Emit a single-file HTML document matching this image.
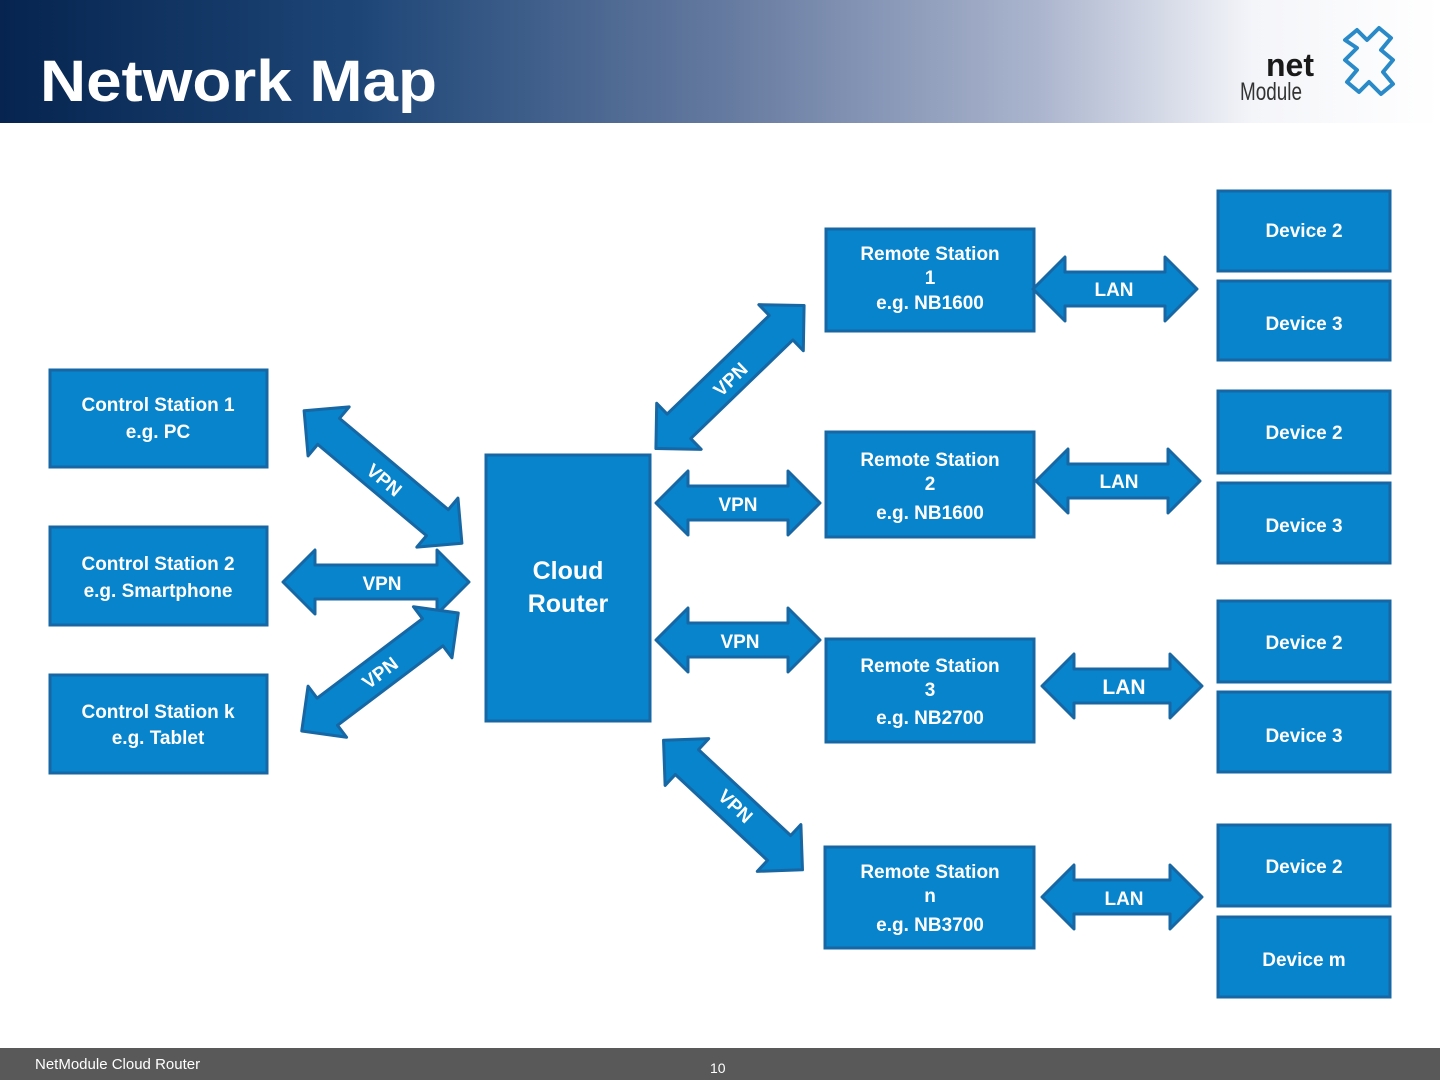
<!DOCTYPE html>
<html><head><meta charset="utf-8"><style>
body{margin:0;width:1440px;height:1080px;overflow:hidden;background:#fff;font-family:"Liberation Sans",sans-serif}
</style></head><body>
<svg width="1440" height="1080" viewBox="0 0 1440 1080" xmlns="http://www.w3.org/2000/svg" font-family="Liberation Sans, sans-serif">
<defs>
<linearGradient id="hg" x1="0" x2="1" y1="0" y2="0">
<stop offset="0" stop-color="#06244f"/>
<stop offset="0.25" stop-color="#1d4677"/>
<stop offset="0.5" stop-color="#64799f"/>
<stop offset="0.72" stop-color="#aab4cd"/>
<stop offset="0.87" stop-color="#f4f5f9"/>
<stop offset="1" stop-color="#ffffff"/>
</linearGradient>
</defs>
<rect x="0" y="0" width="1440" height="123" fill="url(#hg)"/>
<text x="40" y="101" font-size="58" font-weight="bold" fill="#fff" textLength="397" lengthAdjust="spacingAndGlyphs">Network Map</text>
<text x="1266" y="76" font-size="32" font-weight="bold" fill="#1a1a1a">net</text>
<text x="1240" y="100" font-size="25" fill="#333" textLength="62" lengthAdjust="spacingAndGlyphs">Module</text>
<path d="M1345,40 l12,-10 l10,10 l12,-12 l12,10 l-10,12 l12,10 l-10,12 l10,12 l-12,10 l-12,-12 l-10,10 l-12,-10 l10,-12 l-12,-10 l12,-12 z" fill="none" stroke="#2a8ac8" stroke-width="4" stroke-linejoin="round"/>

<g fill="#0784cc" stroke="#1667a3" stroke-width="3">
<rect x="1218" y="191" width="172" height="80"/>
<rect x="1218" y="281" width="172" height="79"/>
<rect x="826" y="229" width="208" height="102"/>
<rect x="50" y="370" width="217" height="97"/>
<rect x="1218" y="391" width="172" height="82"/>
<rect x="1218" y="483" width="172" height="80"/>
<rect x="826" y="432" width="208" height="105"/>
<rect x="486" y="455" width="164" height="266"/>
<rect x="50" y="527" width="217" height="98"/>
<rect x="1218" y="601" width="172" height="81"/>
<rect x="1218" y="692" width="172" height="80"/>
<rect x="826" y="639" width="208" height="103"/>
<rect x="50" y="675" width="217" height="98"/>
<rect x="1218" y="825" width="172" height="81"/>
<rect x="1218" y="917" width="172" height="80"/>
<rect x="825" y="847" width="209" height="101"/>
</g>

<g fill="#0784cc" stroke="#1667a3" stroke-width="3" stroke-linejoin="round">
<polygon transform="translate(1115,289)" points="-82,0 -50,-32 -50,-17 50,-17 50,-32 82,0 50,32 50,17 -50,17 -50,32"/>
<polygon transform="translate(1118,481)" points="-82,0 -50,-32 -50,-17 50,-17 50,-32 82,0 50,32 50,17 -50,17 -50,32"/>
<polygon transform="translate(738,503)" points="-82,0 -50,-32 -50,-17 50,-17 50,-32 82,0 50,32 50,17 -50,17 -50,32"/>
<polygon transform="translate(376,582)" points="-93,0 -61,-32 -61,-17 61,-17 61,-32 93,0 61,32 61,17 -61,17 -61,32"/>
<polygon transform="translate(738,640)" points="-82,0 -50,-32 -50,-17 50,-17 50,-32 82,0 50,32 50,17 -50,17 -50,32"/>
<polygon transform="translate(1122,686)" points="-80,0 -48,-32 -48,-17 48,-17 48,-32 80,0 48,32 48,17 -48,17 -48,32"/>
<polygon transform="translate(1122,897)" points="-80,0 -48,-32 -48,-17 48,-17 48,-32 80,0 48,32 48,17 -48,17 -48,32"/>
<polygon transform="translate(730,377) rotate(-44)" points="-103,0 -71,-32 -71,-17 71,-17 71,-32 103,0 71,32 71,17 -71,17 -71,32"/>
<polygon transform="translate(383,477) rotate(40)" points="-103,0 -71,-32 -71,-17 71,-17 71,-32 103,0 71,32 71,17 -71,17 -71,32"/>
<polygon transform="translate(380,672) rotate(-37)" points="-98,0 -66,-32 -66,-17 66,-17 66,-32 98,0 66,32 66,17 -66,17 -66,32"/>
<polygon transform="translate(733,805) rotate(43)" points="-95,0 -63,-32 -63,-17 63,-17 63,-32 95,0 63,32 63,17 -63,17 -63,32"/>
</g>

<g fill="#fff" font-weight="bold" font-size="19" text-anchor="middle">
<text x="1304" y="237">Device 2</text>
<text x="1304" y="330">Device 3</text>
<text x="930" y="260">Remote Station</text><text x="930" y="284">1</text><text x="930" y="309">e.g. NB1600</text>
<text x="158" y="411">Control Station 1</text><text x="158" y="438">e.g. PC</text>
<text x="1304" y="439">Device 2</text>
<text x="1304" y="532">Device 3</text>
<text x="930" y="466">Remote Station</text><text x="930" y="490">2</text><text x="930" y="519">e.g. NB1600</text>
<text x="568" y="579" font-size="25">Cloud</text><text x="568" y="612" font-size="25">Router</text>
<text x="158" y="570">Control Station 2</text><text x="158" y="597">e.g. Smartphone</text>
<text x="1304" y="649">Device 2</text>
<text x="1304" y="742">Device 3</text>
<text x="930" y="672">Remote Station</text><text x="930" y="696">3</text><text x="930" y="724">e.g. NB2700</text>
<text x="158" y="718">Control Station k</text><text x="158" y="744">e.g. Tablet</text>
<text x="1304" y="873">Device 2</text>
<text x="1304" y="966">Device m</text>
<text x="930" y="878">Remote Station</text><text x="930" y="902">n</text><text x="930" y="931">e.g. NB3700</text>

<text x="1114" y="296">LAN</text>
<text x="1119" y="488">LAN</text>
<text x="738" y="511">VPN</text>
<text x="382" y="590">VPN</text>
<text x="740" y="648">VPN</text>
<text x="1124" y="694" font-size="21">LAN</text>
<text x="1124" y="905">LAN</text>
<text transform="translate(735,384) rotate(-44)">VPN</text>
<text transform="translate(380,485) rotate(40)">VPN</text>
<text transform="translate(384,678) rotate(-37)">VPN</text>
<text transform="translate(731,811) rotate(43)">VPN</text>
</g>

<rect x="0" y="1048" width="1440" height="32" fill="#595959"/>
<text x="35" y="1069" font-size="15" fill="#fff">NetModule Cloud Router</text>
<text x="710" y="1073" font-size="14" fill="#fff">10</text>
</svg>
</body></html>
